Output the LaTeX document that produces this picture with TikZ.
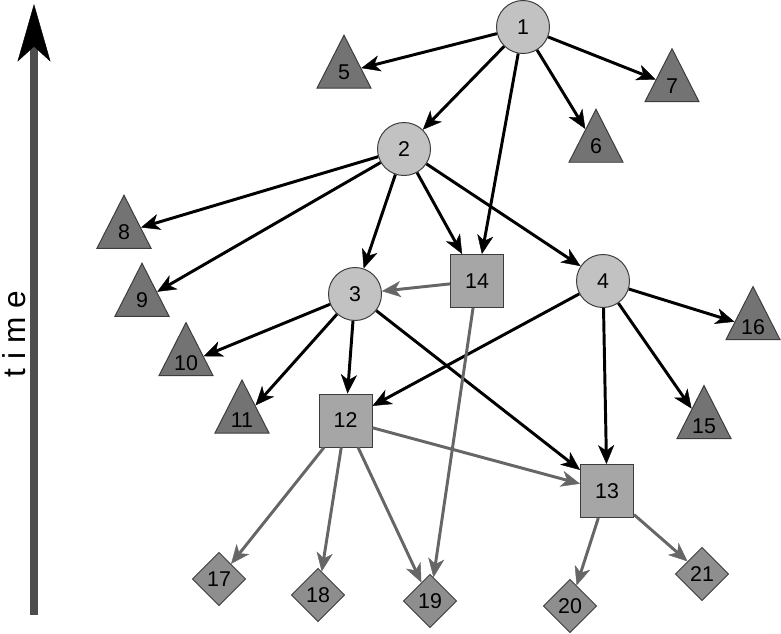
\documentclass[tikz,border=0pt]{standalone}
\usepackage{fontspec}
\setmainfont{Liberation Sans}
\usetikzlibrary{shapes.geometric,arrows.meta}
\definecolor{eventfill}{HTML}{C2C2C2}
\definecolor{mergefill}{HTML}{A6A6A6}
\definecolor{leaffill}{HTML}{737373}
\definecolor{sinkfill}{HTML}{8E8E8E}
\definecolor{rimgray}{HTML}{3C3C3C}
\definecolor{linkgray}{HTML}{666666}
\definecolor{axisgray}{HTML}{4D4D4D}
\tikzset{
  event/.style={circle, fill=eventfill, draw=rimgray, line width=0.7pt, minimum size=1.325cm, inner sep=0pt, font=\fontsize{15.2}{17}\selectfont},
  merge/.style={rectangle, fill=mergefill, draw=rimgray, line width=0.7pt, minimum size=1.325cm, inner sep=0pt, font=\fontsize{15.2}{17}\selectfont},
  leaf/.style={isosceles triangle, isosceles triangle stretches, shape border rotate=90, fill=leaffill, draw=rimgray, line width=0.7pt, minimum width=1.35cm, minimum height=1.325cm, inner sep=0pt, font=\fontsize{15.2}{17}\selectfont},
  sink/.style={diamond, aspect=1, fill=sinkfill, draw=rimgray, line width=0.7pt, minimum size=1.335cm, inner sep=0pt, font=\fontsize{15.2}{17}\selectfont},
  link/.style={draw=black, line width=2.1pt, -{Stealth[length=13.5pt, width=11.5pt, inset=4pt, line width=0.3pt]}},
  glink/.style={draw=linkgray, line width=2.1pt, -{Stealth[length=13.5pt, width=11.5pt, inset=4pt, line width=0.3pt]}},
  timeaxis/.style={draw=axisgray, line width=5pt, -{Stealth[length=41pt, width=23.5pt, inset=10.7pt, line width=0.3pt, color=black]}},
  timelabel/.style={rotate=90, font=\fontsize{22.5}{26}\selectfont},
}

\begin{document}
\begin{tikzpicture}[x=0.025cm, y=-0.025cm]
\useasboundingbox (0,0) rectangle (781,633);
\coordinate (tbot) at (34,615);
\coordinate (ttop) at (34,4);
\draw[timeaxis] (tbot) -- (ttop);
\node[timelabel] (tlabel) at (14,334) {t i m e};
\node[event] (n1) at (523,27) {1};
\node[event] (n2) at (404,149) {2};
\node[event] (n3) at (355,294) {3};
\node[event] (n4) at (603,281) {4};
\node[leaf] (n5) at (344,72.5) {5};
\node[leaf] (n6) at (596,146.5) {6};
\node[leaf] (n7) at (672,86) {7};
\node[leaf] (n8) at (124,232.5) {8};
\node[leaf] (n9) at (142,300.5) {9};
\node[leaf] (n10) at (186,363.5) {10};
\node[leaf] (n11) at (242,420.5) {11};
\node[merge] (n12) at (345.5,420.5) {12};
\node[merge] (n13) at (607,491) {13};
\node[merge] (n14) at (477,281) {14};
\node[leaf] (n15) at (704,426.5) {15};
\node[leaf] (n16) at (753,327.5) {16};
\node[sink] (n17) at (219,579) {17};
\node[sink] (n18) at (318,595) {18};
\node[sink] (n19) at (430,601) {19};
\node[sink] (n20) at (570,606) {20};
\node[sink] (n21) at (702,574) {21};
\draw[link] (n1) -- (n5);
\draw[link] (n1) -- (n2);
\draw[link] (n1) -- (n14);
\draw[link] (n1) -- (n6);
\draw[link] (n1) -- (n7);
\draw[link] (n2) -- (n8);
\draw[link] (n2) -- (n9);
\draw[link] (n2) -- (n3);
\draw[link] (n2) -- (n14);
\draw[link] (n2) -- (n4);
\draw[link] (n3) -- (n10);
\draw[link] (n3) -- (n11);
\draw[link] (n3) -- (n12);
\draw[link] (n3) -- (n13);
\draw[link] (n4) -- (n12);
\draw[link] (n4) -- (n13);
\draw[link] (n4) -- (n15);
\draw[link] (n4) -- (n16);
\draw[glink] (n14) -- (n3);
\draw[glink] (n14) -- (n19);
\draw[glink] (n12) -- (n13);
\draw[glink] (n12) -- (n17);
\draw[glink] (n12) -- (n18);
\draw[glink] (n12) -- (n19);
\draw[glink] (n13) -- (n20);
\draw[glink] (n13) -- (n21);
\end{tikzpicture}
\end{document}
